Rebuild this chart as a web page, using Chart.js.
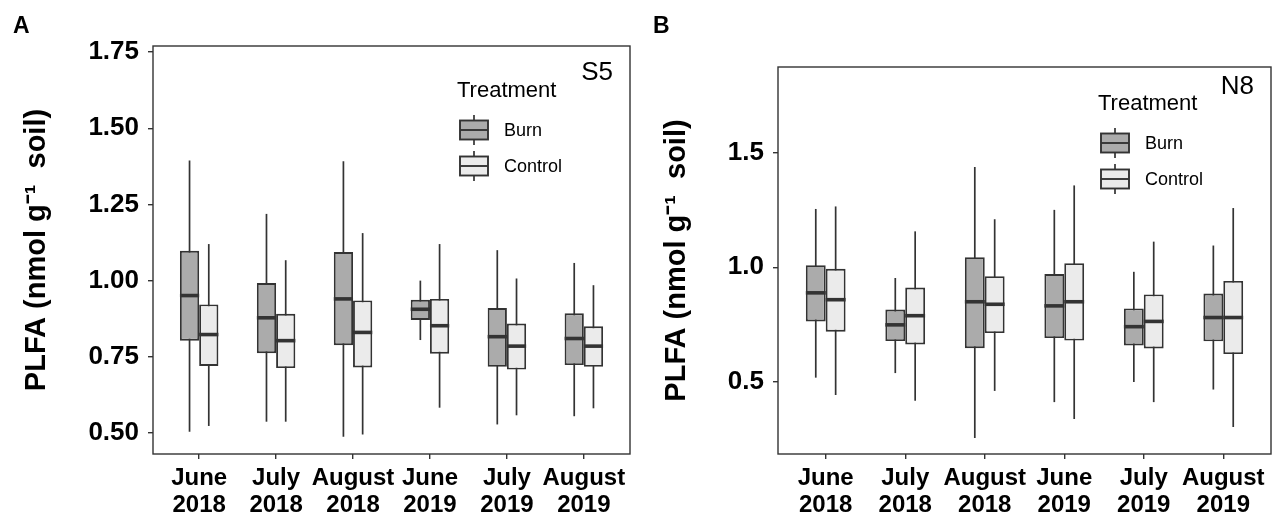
<!DOCTYPE html>
<html>
<head>
<meta charset="utf-8">
<script src="https://cdn.jsdelivr.net/npm/chart.js@4.4.1/dist/chart.umd.min.js"></script>
<style>
html, body { margin: 0; padding: 0; background: #fff; }
#wrap { position: relative; width: 1280px; height: 519px; }
canvas { position: absolute; top: 0; }
</style>
</head>
<body>
<div id="wrap">
  <canvas id="panelA" width="640" height="519" style="left:0"></canvas>
  <canvas id="panelB" width="640" height="519" style="left:640px"></canvas>
</div>
<script>
// sampling months (x axis)
var months = [['June', '2018'], ['July', '2018'], ['August', '2018'], ['June', '2019'], ['July', '2019'], ['August', '2019']];

// box summaries per month: [min, q1, median, q3, max]
var s5Burn = [
    [0.504, 0.803, 0.951, 1.098, 1.394],
    [0.537, 0.762, 0.878, 0.992, 1.219],
    [0.488, 0.788, 0.940, 1.094, 1.392],
    [0.805, 0.871, 0.906, 0.937, 1.000],
    [0.528, 0.717, 0.816, 0.910, 1.100],
    [0.555, 0.723, 0.810, 0.893, 1.058]
];
var s5Control = [
    [0.523, 0.720, 0.823, 0.922, 1.120],
    [0.537, 0.713, 0.803, 0.891, 1.067],
    [0.495, 0.715, 0.830, 0.935, 1.156],
    [0.583, 0.760, 0.852, 0.940, 1.120],
    [0.558, 0.708, 0.785, 0.859, 1.007],
    [0.581, 0.717, 0.785, 0.850, 0.985]
];
var n8Burn = [
    [0.517, 0.763, 0.888, 1.009, 1.255],
    [0.537, 0.677, 0.748, 0.815, 0.953],
    [0.253, 0.646, 0.849, 1.044, 1.438],
    [0.410, 0.690, 0.831, 0.970, 1.251],
    [0.498, 0.658, 0.740, 0.820, 0.980],
    [0.465, 0.676, 0.780, 0.885, 1.095]
];
var n8Control = [
    [0.441, 0.718, 0.858, 0.993, 1.266],
    [0.416, 0.662, 0.788, 0.911, 1.157],
    [0.459, 0.712, 0.838, 0.961, 1.210],
    [0.336, 0.679, 0.849, 1.018, 1.358],
    [0.410, 0.645, 0.763, 0.881, 1.112],
    [0.301, 0.620, 0.780, 0.940, 1.259]
];

// y axis ticks
var s5Ticks = [0.50, 0.75, 1.00, 1.25, 1.50, 1.75];
var n8Ticks = [0.5, 1.0, 1.5];

var FONT = "'Liberation Sans', Arial, Helvetica, sans-serif";
var LINE = '#333333';
var BURN_FILL = '#ababab';
var CONTROL_FILL = '#ebebeb';

var boxExtras = {
    id: 'boxExtras',
    beforeDatasetsDraw: function (chart) {
        // whiskers, drawn under the boxes
        var ctx = chart.ctx;
        var y = chart.scales.y;
        ctx.save();
        ctx.strokeStyle = LINE;
        ctx.lineWidth = 1.7;
        chart.data.datasets.forEach(function (ds, d) {
            var meta = chart.getDatasetMeta(d);
            meta.data.forEach(function (bar, i) {
                var s = ds.stats[i];
                ctx.beginPath();
                ctx.moveTo(bar.x, y.getPixelForValue(s[0]));
                ctx.lineTo(bar.x, y.getPixelForValue(s[4]));
                ctx.stroke();
            });
        });
        ctx.restore();
    },
    afterDatasetsDraw: function (chart, args, opts) {
        var ctx = chart.ctx;
        var y = chart.scales.y;
        var ca = chart.chartArea;
        ctx.save();

        // medians
        ctx.strokeStyle = LINE;
        ctx.lineWidth = 3.6;
        chart.data.datasets.forEach(function (ds, d) {
            var meta = chart.getDatasetMeta(d);
            meta.data.forEach(function (bar, i) {
                var py = y.getPixelForValue(ds.stats[i][2]);
                ctx.beginPath();
                ctx.moveTo(bar.x - bar.width / 2, py);
                ctx.lineTo(bar.x + bar.width / 2, py);
                ctx.stroke();
            });
        });

        // panel frame
        ctx.lineWidth = 1.4;
        ctx.strokeRect(ca.left, ca.top, ca.right - ca.left, ca.bottom - ca.top);

        // site label
        ctx.fillStyle = '#000';
        ctx.textAlign = 'right';
        ctx.textBaseline = 'alphabetic';
        ctx.font = '26px ' + FONT;
        ctx.fillText(opts.site, ca.right - 17, ca.top + opts.siteBase);

        // legend
        var lx = ca.right - 173;
        ctx.textAlign = 'left';
        ctx.textBaseline = 'middle';
        ctx.font = '22px ' + FONT;
        ctx.fillText('Treatment', lx, ca.top + opts.legendTop);
        ctx.font = '18px ' + FONT;
        chart.data.datasets.forEach(function (ds, k) {
            var cy = ca.top + opts.legendTop + 39 + k * 36;
            var kx = ca.right - 170;
            ctx.lineWidth = 1.7;
            ctx.beginPath();
            ctx.moveTo(kx + 14, cy - 15);
            ctx.lineTo(kx + 14, cy + 15);
            ctx.stroke();
            ctx.fillStyle = ds.backgroundColor;
            ctx.fillRect(kx, cy - 9.5, 28, 19);
            ctx.lineWidth = 1.9;
            ctx.strokeRect(kx, cy - 9.5, 28, 19);
            ctx.beginPath();
            ctx.moveTo(kx, cy);
            ctx.lineTo(kx + 28, cy);
            ctx.stroke();
            ctx.fillStyle = '#000';
            ctx.fillText(ds.label, ca.right - 126, cy + 1);
        });

        ctx.restore();
    },
    afterDraw: function (chart, args, opts) {
        var ctx = chart.ctx;
        ctx.save();
        ctx.fillStyle = '#000';
        ctx.font = 'bold 23px ' + FONT;
        ctx.textBaseline = 'alphabetic';
        ctx.textAlign = 'left';
        ctx.fillText(opts.tag, 13, 33);
        ctx.restore();
    }
};

function boxData(stats) {
    return stats.map(function (s, i) {
        return { x: i + 1, y: [s[1], s[3]] };
    });
}

function makePanel(id, cfg) {
    var el = document.getElementById(id);
    return new Chart(el, {
        type: 'bar',
        data: {
            datasets: [
                {
                    label: 'Burn', data: boxData(cfg.burn), stats: cfg.burn,
                    backgroundColor: BURN_FILL, borderColor: LINE, borderWidth: 1.9,
                    borderSkipped: false, categoryPercentage: 0.5, barPercentage: 1
                },
                {
                    label: 'Control', data: boxData(cfg.control), stats: cfg.control,
                    backgroundColor: CONTROL_FILL, borderColor: LINE, borderWidth: 1.9,
                    borderSkipped: false, categoryPercentage: 0.5, barPercentage: 1
                }
            ]
        },
        options: {
            responsive: false,
            animation: false,
            devicePixelRatio: 1,
            layout: { padding: { left: 0, top: cfg.top, right: cfg.right, bottom: 0 } },
            plugins: {
                legend: { display: false },
                tooltip: { enabled: false },
                boxExtras: { site: cfg.site, tag: cfg.tag, legendTop: cfg.legendTop, siteBase: cfg.siteBase }
            },
            scales: {
                x: {
                    type: 'linear',
                    offset: false,
                    min: 0.4,
                    max: 6.6,
                    afterBuildTicks: function (scale) {
                        scale.ticks = months.map(function (m, i) { return { value: i + 1 }; });
                    },
                    afterFit: function (scale) { scale.height = 519 - cfg.bottom; },
                    ticks: {
                        autoSkip: false,
                        maxRotation: 0,
                        padding: 6,
                        color: '#000',
                        font: { family: FONT, size: 24, weight: 'bold', lineHeight: 1.12 },
                        callback: function (v) { return months[v - 1]; }
                    },
                    grid: { drawOnChartArea: false, drawTicks: true, tickLength: 5, color: LINE, lineWidth: 1.4, offset: false },
                    border: { display: false }
                },
                y: {
                    min: cfg.yMin,
                    max: cfg.yMax,
                    afterBuildTicks: function (scale) {
                        scale.ticks = cfg.yTicks.map(function (v) { return { value: v }; });
                    },
                    afterFit: function (scale) { scale.width = cfg.left; },
                    ticks: {
                        padding: 9,
                        color: '#000',
                        font: { family: FONT, size: 26, weight: 'bold' },
                        callback: function (v) { return v.toFixed(cfg.decimals); }
                    },
                    grid: { drawOnChartArea: false, drawTicks: true, tickLength: 5, color: LINE, lineWidth: 1.4 },
                    border: { display: false },
                    title: {
                        display: true,
                        text: 'PLFA (nmol g\u207B\u00B9  soil)',
                        color: '#000',
                        font: { family: FONT, size: 29, weight: 'bold', lineHeight: 1.2 },
                        padding: { top: 20, bottom: 0 }
                    }
                }
            }
        },
        plugins: [boxExtras]
    });
}

makePanel('panelA', {
    burn: s5Burn, control: s5Control, yTicks: s5Ticks, decimals: 2,
    yMin: 0.431, yMax: 1.770, site: 'S5', tag: 'A',
    left: 153, top: 46, right: 10, bottom: 454, legendTop: 45, siteBase: 34
});

makePanel('panelB', {
    burn: n8Burn, control: n8Control, yTicks: n8Ticks, decimals: 1,
    yMin: 0.183, yMax: 1.876, site: 'N8', tag: 'B',
    left: 138, top: 67, right: 9, bottom: 454, legendTop: 37, siteBase: 27
});
</script>
</body>
</html>
